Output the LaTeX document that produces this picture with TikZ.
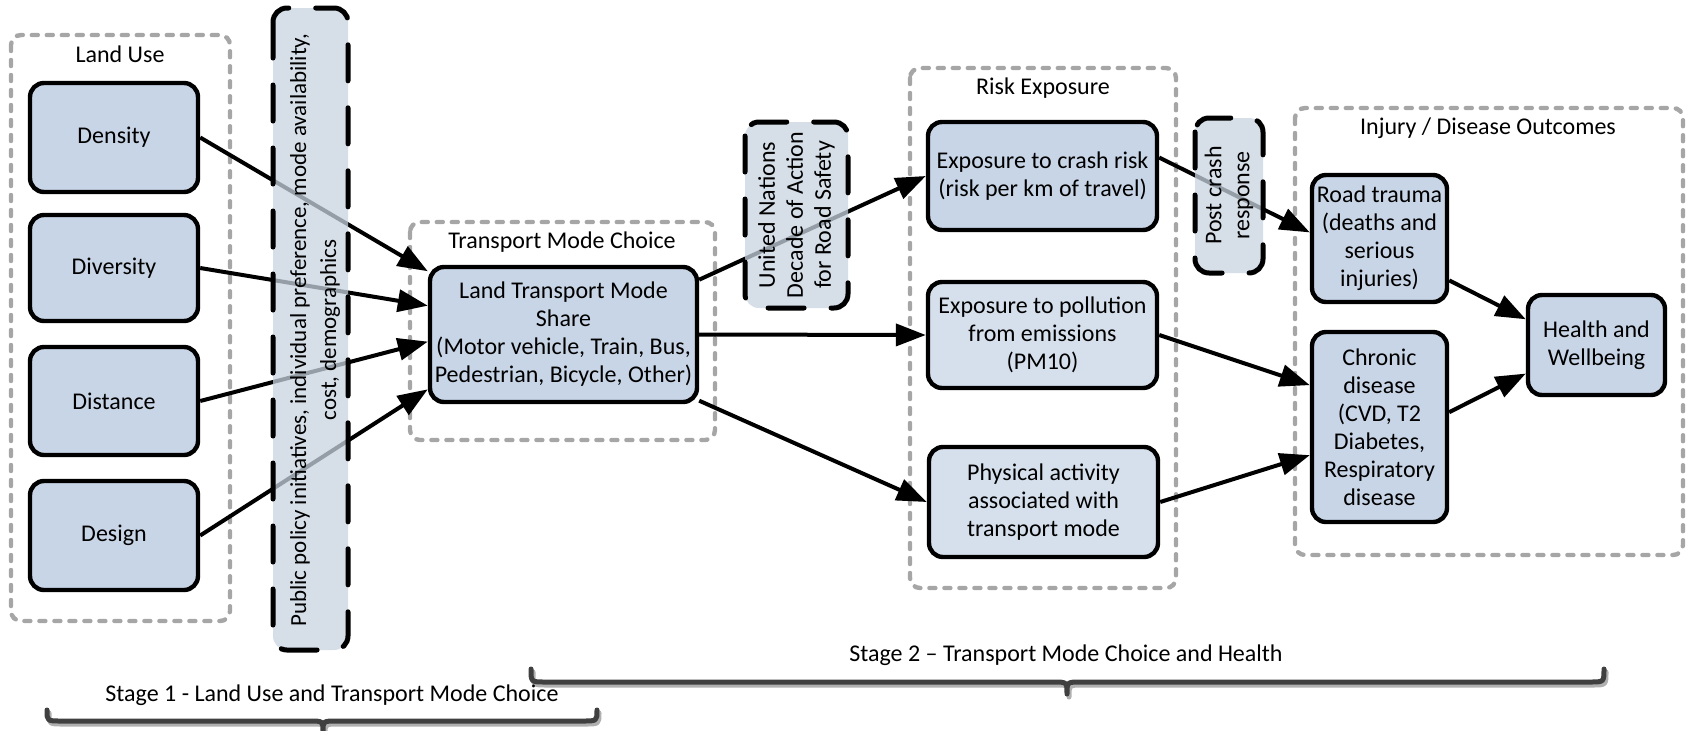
\documentclass[tikz,border=0pt]{standalone}
\usepackage{fontspec}
\setmainfont{Carlito}
\usetikzlibrary{arrows.meta}
\definecolor{boxfill}{HTML}{C8D5E6}
\definecolor{lightfill}{HTML}{D6E0EC}
\definecolor{ovfill}{HTML}{C8D3E0}
\definecolor{grpgrey}{HTML}{A6A6A6}
\definecolor{bracecol}{HTML}{404040}
\definecolor{shadowcol}{HTML}{B0B0B0}
\begin{document}
\begin{tikzpicture}[x=0.5pt,y=-0.5pt,
  font=\fontsize{12}{14}\selectfont,
  mbox/.style={draw=black, line width=2.2pt, rounded corners=7pt, fill=boxfill,
    align=center, inner sep=1pt},
  lbox/.style={mbox, fill=lightfill},
  grpbox/.style={draw=grpgrey, line width=2.2pt, rounded corners=5pt,
    dash pattern=on 3pt off 4.5pt, line cap=round},
  ovbox/.style={draw=black, line width=2.5pt, rounded corners=7pt,
    dash pattern=on 18pt off 13.5pt, line cap=round, fill=ovfill, fill opacity=0.75, draw opacity=1},
  arr/.style={draw=black, line width=2pt, -{Triangle[length=15pt,width=11pt]}},
  bracestyle/.style={draw=bracecol, line width=2.5pt, line cap=round, line join=round},
  braceshadow/.style={draw=shadowcol, line width=2.5pt, line cap=round, line join=round},
  ttl/.style={inner sep=0pt, align=center}
]
\useasboundingbox (0,0) rectangle (1688,730);

% group boxes
\draw[grpbox] (11,35) rectangle (230,621);
\node[ttl] (tLU) at (120,54) {Land Use};
\draw[grpbox] (410,222) rectangle (715,440);
\node[ttl] (tTMC) at (562,242) {Transport Mode Choice};
\draw[grpbox] (910,68) rectangle (1176,588);
\node[ttl] (tRE) at (1043,88) {Risk Exposure};
\draw[grpbox] (1295,108) rectangle (1683,555);
\node[ttl] (tIDO) at (1488,128) {Injury / Disease Outcomes};

% main boxes
\node[mbox, minimum width=84pt, minimum height=54.5pt] (den) at (114,137.5) {Density};
\node[mbox, minimum width=84pt, minimum height=53pt] (div) at (114,268) {Diversity};
\node[mbox, minimum width=84pt, minimum height=54pt] (dis) at (114,401) {Distance};
\node[mbox, minimum width=84pt, minimum height=54.5pt] (des) at (114,535.5) {Design};
\node[mbox, minimum width=133.5pt, minimum height=67.5pt] (lt) at (563.5,334.5)
  {Land Transport Mode\\Share\\(Motor vehicle, Train, Bus,\\Pedestrian, Bicycle, Other)};
\node[mbox, minimum width=114.5pt, minimum height=54pt] (crash) at (1042.5,176)
  {Exposure to crash risk\\(risk per km of travel)};
\node[lbox, minimum width=114.5pt, minimum height=53pt] (poll) at (1042.5,335)
  {Exposure to pollution\\from emissions\\(PM10)};
\node[lbox, minimum width=114.5pt, minimum height=55pt] (phys) at (1043.5,502)
  {Physical activity\\associated with\\transport mode};
\node[mbox, minimum width=67.5pt, minimum height=63.5pt] (rt) at (1379.5,238.5)
  {Road trauma\\(deaths and\\serious\\injuries)};
\node[mbox, minimum width=67.5pt, minimum height=95pt] (chr) at (1379.5,427)
  {Chronic\\disease\\(CVD, T2\\Diabetes,\\Respiratory\\disease};
\node[mbox, minimum width=68.5pt, minimum height=50pt] (hw) at (1596.5,345)
  {Health and\\Wellbeing};

% arrows
\draw[arr] (den.east) -- (lt.155);
\draw[arr] (div.east) -- (lt.168.8);
\draw[arr] (dis.east) -- (lt.183.6);
\draw[arr] (des.east) -- (lt.202.6);
\draw[arr] (lt.22.9) -- (crash.west);
\draw[arr] (lt.east) -- (poll.west);
\draw[arr] (lt.334.6) -- (phys.west);
\draw[arr] (crash.9.4) -- (rt.175.3);
\draw[arr] (poll.east) -- (chr.149.4);
\draw[arr] (phys.east) -- (chr.202.5);
\draw[arr] (rt.329.7) -- (hw.160);
\draw[arr] (chr.12.5) -- (hw.202.2);

% overlay dashed boxes
\draw[ovbox] (273,8) rectangle (348,650);
\node[rotate=90, align=center, inner sep=0pt, font=\fontsize{11.5}{15}\selectfont] (pol) at (315,330)
  {Public policy initiatives, individual preference, mode availability,\\cost, demographics};
\draw[ovbox] (745,122) rectangle (848,308);
\node[rotate=90, align=center, inner sep=0pt] (un) at (796.5,215)
  {United Nations\\Decade of Action\\for Road Safety};
\draw[ovbox] (1195,118) rectangle (1263,273);
\node[rotate=90, align=center, inner sep=0pt] (pcr) at (1229,195.5)
  {Post crash\\response};

% braces
\begin{scope}[shift={(2,3)}]
\draw[braceshadow] (531,669) .. controls (531,682) .. (545,682) -- (1053,682)
  .. controls (1067,682) .. (1067,694) .. controls (1067,682) .. (1081,682)
  -- (1590,682) .. controls (1604,682) .. (1604,669);
\draw[braceshadow] (47,710) .. controls (47,721) .. (61,721) -- (309,721)
  .. controls (323,721) .. (323,731) .. controls (323,721) .. (337,721)
  -- (583,721) .. controls (597,721) .. (597,710);
\end{scope}
\draw[bracestyle] (531,669) .. controls (531,682) .. (545,682) -- (1053,682)
  .. controls (1067,682) .. (1067,694) .. controls (1067,682) .. (1081,682)
  -- (1590,682) .. controls (1604,682) .. (1604,669);
\draw[bracestyle] (47,710) .. controls (47,721) .. (61,721) -- (309,721)
  .. controls (323,721) .. (323,731) .. controls (323,721) .. (337,721)
  -- (583,721) .. controls (597,721) .. (597,710);
\node[ttl] (s2) at (1066,655) {Stage 2 – Transport Mode Choice and Health};
\node[ttl] (s1) at (332,695) {Stage 1 - Land Use and Transport Mode Choice};
\end{tikzpicture}
\end{document}
